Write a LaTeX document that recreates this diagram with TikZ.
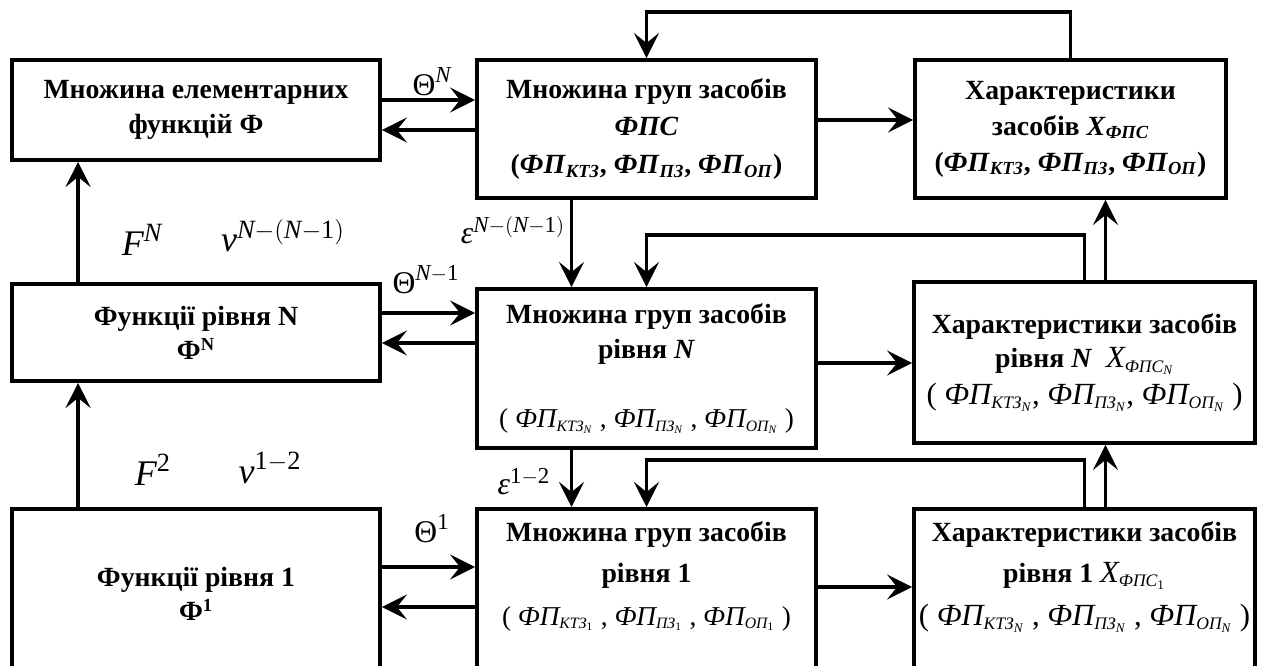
\documentclass[tikz,border=0pt]{standalone}
\usepackage{amsmath}
\usepackage{fontspec}
\setmainfont{Liberation Serif}
\usetikzlibrary{positioning,arrows.meta}

% розміри індексів для формул у блоках і для позначок
\DeclareMathSizes{15.8}{15.8}{10.5}{7.5}
\DeclareMathSizes{15.5}{15.5}{9}{6.5}
\DeclareMathSizes{17.5}{17.5}{10}{7.5}
\DeclareMathSizes{20.5}{20.5}{15}{11}
\DeclareMathSizes{18}{18}{13}{10}

\tikzset{
  blok/.style={draw, line width=2.2pt, align=center, inner sep=2pt,
    font=\bfseries\fontsize{15.8}{19.5}\selectfont},
  bloktekst/.style={align=center, inner sep=2pt,
    font=\bfseries\fontsize{15.8}{23}\selectfont},
  arr/.style={line width=2.2pt, -{Stealth[length=0.5cm,width=0.5cm,inset=0.2cm]}},
  mitka/.style={font=\fontsize{20.5}{24}\selectfont},
  mitkas/.style={font=\fontsize{18}{22}\selectfont}
}
% ФП з індексом (жирний курсив) і з подвійним індексом
\newcommand{\fpi}[1]{\textit{ФП}\textsubscript{\textit{#1}}}
\newcommand{\fpn}[2]{$\textit{ФП}_{\textit{#1}_{\textit{#2}}}$}
\newcommand{\mali}{\mdseries\fontsize{15.5}{19}\selectfont}
\newcommand{\velyki}{\mdseries\fontsize{17.5}{21}\selectfont}

\begin{document}
\begin{tikzpicture}
  \useasboundingbox (0,0) rectangle (25.26,13.3);
  \clip (0,0) rectangle (25.26,13.3);

  % верхній рівень
  \node[blok, minimum width=7.36cm, minimum height=2cm] (mnozh) at (3.92,11.1)
    {Множина елементарних\\функцій Ф};
  \node[blok, minimum width=6.78cm, minimum height=2.76cm,
        font=\bfseries\fontsize{15.8}{21.5}\selectfont] (grupy) at (12.93,10.72)
    {Множина груп засобів\\\textit{ФПС}\\(\fpi{КТЗ}, \fpi{ПЗ}, \fpi{ОП})};
  \node[blok, minimum width=6.22cm, minimum height=2.76cm,
        font=\bfseries\fontsize{15.8}{20.5}\selectfont] (kharakt) at (21.41,10.72)
    {Характеристики\\засобів \textit{X}\textsubscript{\textit{ФПС}}\\(\fpi{КТЗ}, \fpi{ПЗ}, \fpi{ОП})};

  \draw[arr] (kharakt.north) -- ++(0,0.92) -| (grupy.north);
  \draw[arr] ([yshift=0.2cm]mnozh.east) -- ([yshift=0.2cm]mnozh.east -| grupy.west);
  \draw[arr] ([yshift=-0.4cm]mnozh.east -| grupy.west) -- ([yshift=-0.4cm]mnozh.east);
  \draw[arr] ([yshift=0.18cm]grupy.east) -- ([yshift=0.18cm]grupy.east -| kharakt.west);
  \node[mitkas] (thetaN) at (8.64,11.66) {$\textup{Θ}^{\textit{N}}$};

  % рівень N
  \node[blok, minimum width=7.36cm, minimum height=1.94cm] (funN) at (3.92,6.65)
    {Функції рівня N\\Ф\textsuperscript{N}};
  \node[blok, minimum width=6.78cm, minimum height=3.18cm] (grupN) at (12.93,5.93)
    {Множина груп засобів\\рівня \textit{N}\\[0.7cm]
     {\mali ( \fpn{КТЗ}{N} , \fpn{ПЗ}{N} , \fpn{ОП}{N} )}};
  \node[blok, minimum width=6.82cm, minimum height=3.22cm] (kharN) at (21.69,6.05)
    {Характеристики засобів\\рівня \textit{N}\ \ {\velyki $\textit{X}_{\textit{ФПС}_{\textit{N}}}$}\\[0.05cm]
     {\velyki ( \fpn{КТЗ}{N}, \fpn{ПЗ}{N}, \fpn{ОП}{N} )}};

  \draw[arr] ([xshift=1.36cm]funN.north west) -- ([xshift=1.36cm]mnozh.south west);
  \draw[arr] ([xshift=-1.5cm]grupy.south) -- ([xshift=-1.5cm]grupy.south |- grupN.north);
  \draw[arr] (kharN.north) -- ++(0,0.9) -| (grupN.north);
  \draw[arr] ([xshift=0.42cm]kharN.north) -- ([xshift=0.42cm]kharN.north |- kharakt.south);
  \draw[arr] ([yshift=0.39cm]funN.east) -- ([yshift=0.39cm]funN.east -| grupN.west);
  \draw[arr] ([yshift=-0.21cm]funN.east -| grupN.west) -- ([yshift=-0.21cm]funN.east);
  \draw[arr] ([yshift=0.11cm]grupN.east) -- ([yshift=0.11cm]grupN.east -| kharN.west);

  \node[mitka] (FN) at (2.84,8.5) {$\textit{F}^{\textit{N}}$};
  \node[mitka] (nuN) at (5.66,8.58) {$\textit{ν}^{\textit{N}-(\textit{N}-\textup{1})}$};
  \node[mitkas] (thetaN1) at (8.52,7.7) {$\textup{Θ}^{\textit{N}-\textup{1}}$};
  \node[mitkas] (epsN) at (10.26,8.7) {$\textit{ε}^{\textit{N}-(\textit{N}-\textup{1})}$};

  % рівень 1
  \node[blok, minimum width=7.36cm, minimum height=3.4cm, anchor=north] (fun1) at (3.92,3.16)
    {Функції рівня 1\\Ф\textsuperscript{1}};
  \node[blok, minimum width=6.78cm, minimum height=3.4cm, anchor=north] (grup1) at (12.93,3.16) {};
  \node[bloktekst, below=0.22cm of grup1.north] (grup1t)
    {Множина груп засобів\\рівня 1\\[0.05cm]
     {\mali ( \fpn{КТЗ}{\textup{1}} , \fpn{ПЗ}{\textup{1}} , \fpn{ОП}{\textup{1}} )}};
  \node[blok, minimum width=6.82cm, minimum height=3.4cm, anchor=north] (khar1) at (21.69,3.16) {};
  \node[bloktekst, below=0.22cm of khar1.north] (khar1t)
    {Характеристики засобів\\рівня 1 {\velyki $\textit{X}_{\textit{ФПС}_{\textup{1}}}$}\\[0.05cm]
     {\velyki ( \fpn{КТЗ}{N} , \fpn{ПЗ}{N} , \fpn{ОП}{N} )}};

  \draw[arr] ([xshift=1.36cm]fun1.north west) -- ([xshift=1.36cm]funN.south west);
  \draw[arr] ([xshift=-1.5cm]grupN.south) -- ([xshift=-1.5cm]grupN.south |- grup1.north);
  \draw[arr] (khar1.north) -- ++(0,0.94) -| (grup1.north);
  \draw[arr] ([xshift=0.42cm]khar1.north) -- ([xshift=0.42cm]khar1.north |- kharN.south);
  \draw[arr] ([yshift=-1.2cm]fun1.north east) -- ([yshift=-1.2cm]fun1.north east -| grup1.west);
  \draw[arr] ([yshift=-2cm]fun1.north east -| grup1.west) -- ([yshift=-2cm]fun1.north east);
  \draw[arr] ([yshift=-1.6cm]grup1.north east) -- ([yshift=-1.6cm]grup1.north east -| khar1.west);

  \node[mitka] (F2) at (3.06,3.9) {$\textit{F}^{\textup{2}}$};
  \node[mitka] (nu12) at (5.4,3.94) {$\textit{ν}^{\textup{1}-\textup{2}}$};
  \node[mitkas] (theta1) at (8.64,2.72) {$\textup{Θ}^{\textup{1}}$};
  \node[mitkas] (eps12) at (10.48,3.66) {$\textit{ε}^{\textup{1}-\textup{2}}$};
\end{tikzpicture}
\end{document}
